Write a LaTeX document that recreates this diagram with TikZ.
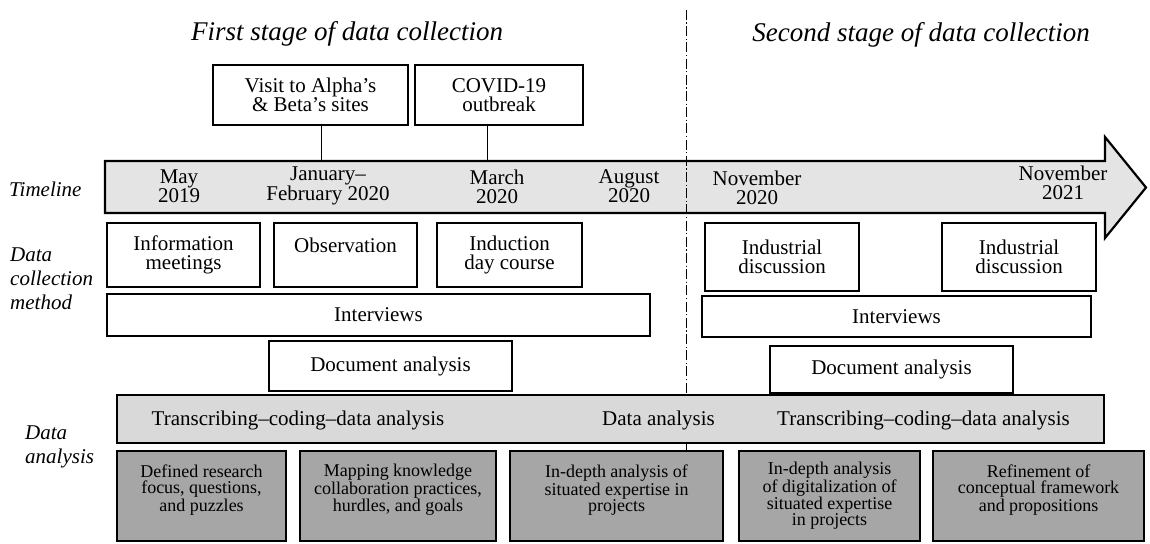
\documentclass[tikz,border=0pt]{standalone}
\usepackage{fontspec}
\setmainfont{Liberation Serif}
\newcommand\txtmain{\fontsize{21}{19.5}\selectfont}
\newcommand\txtsmall{\fontsize{18}{16}\selectfont}
\newcommand\txttitle{\fontsize{27}{30}\selectfont\itshape}
\newcommand\txtside{\fontsize{21}{24}\selectfont\itshape}
\definecolor{arrowgray}{HTML}{E4E4E4}
\definecolor{bargray}{HTML}{D9D9D9}
\definecolor{resultgray}{HTML}{A6A6A6}
\begin{document}
\begin{tikzpicture}[x=1pt,y=-1pt,
  box/.style={draw=black, line width=2.2pt, fill=white, inner sep=0pt,
    align=center, font=\txtmain},
  result/.style={box, fill=resultgray, font=\txtsmall, minimum height=90pt},
  datelabel/.style={align=center, font=\txtmain, inner sep=0pt},
  sidelabel/.style={anchor=west, align=left, font=\txtside, inner sep=0pt},
  stagetitle/.style={font=\txttitle, inner sep=0pt},
  link/.style={draw=black, line width=0.8pt},
  divider/.style={draw=black, line width=0.8pt,
    dash pattern=on 10pt off 2.5pt on 1.2pt off 2.5pt}
]
\useasboundingbox (0,0) rectangle (1150,543);

% stage titles
\node[stagetitle] (title1) at (347,34) {First stage of data collection};
\node[stagetitle] (title2) at (921,35) {Second stage of data collection};

% timeline arrow
\draw[line width=2.2pt, fill=arrowgray, line join=miter]
  (105,161) -- (1105,161) -- (1105,137) -- (1146,187.5) -- (1105,238)
  -- (1105,213) -- (105,213) -- cycle;
\coordinate (jan) at (321,161);
\coordinate (mar) at (487,161);

% events above the timeline
\node[box, minimum width=195pt, minimum height=60pt] (visit) at (310.5,95)
  {Visit to Alpha’s\\ \& Beta’s sites};
\node[box, minimum width=168pt, minimum height=60pt] (covid) at (499,95)
  {COVID-19\\ outbreak};
\draw[link] (visit.south -| jan) -- (jan);
\draw[link] (covid.south -| mar) -- (mar);

% dates on the timeline
\node[datelabel] (d1) at (179,186) {May\\2019};
\node[datelabel] (d2) at (328,186) {January–\\February 2020};
\node[datelabel] (d3) at (497,187) {March\\2020};
\node[datelabel] (d4) at (629,186) {August\\2020};
\node[datelabel] (d5) at (757,188) {November\\2020};
\node[datelabel] (d6) at (1063,183) {November\\2021};

% row labels
\node[sidelabel] (lbltime) at (9,189) {Timeline};
\node[sidelabel] (lblmethod) at (10,279) {Data\\collection\\method};
\node[sidelabel] (lblanalysis) at (25,447) {Data\\analysis};

% data collection methods, first stage
\node[box, minimum width=153pt, minimum height=64pt] (info) at (183.5,255)
  {Information\\ meetings};
\node[box, minimum width=143pt, minimum height=64pt] (obs) at (345.5,255)
  {Observation\\ \mbox{}};
\node[box, minimum width=145pt, minimum height=64pt] (induct) at (509.5,255)
  {Induction\\ day course};
\node[box, minimum width=543pt, minimum height=42pt] (intL) at (378.5,315)
  {Interviews};
\node[box, minimum width=243pt, minimum height=50pt] (docL) at (390.5,366)
  {Document analysis};

% data collection methods, second stage
\node[box, minimum width=154pt, minimum height=68pt] (ind1) at (782,257)
  {Industrial\\ discussion};
\node[box, minimum width=154pt, minimum height=68pt] (ind2) at (1019,257)
  {Industrial\\ discussion};
\node[box, minimum width=389pt, minimum height=41pt] (intR) at (896.5,316.5)
  {Interviews};
\node[box, minimum width=243pt, minimum height=47pt] (docR) at (891.5,369.5)
  {Document analysis};

% data analysis bar
\node[box, fill=bargray, minimum width=987pt, minimum height=48pt] (bar)
  at (610.5,419) {};
\node[datelabel] (tcd1) at (298,420) {Transcribing–coding–data analysis};
\node[datelabel] (da) at (658.5,420) {Data analysis};
\node[datelabel] (tcd2) at (923.5,420) {Transcribing–coding–data analysis};

% analysis outcomes
\node[result, minimum width=169pt] (b1) at (201.5,496)
  {Defined research\\ focus, questions,\\ and puzzles\\ \mbox{}};
\node[result, minimum width=196pt] (b2) at (398,496)
  {Mapping knowledge\\ collaboration practices,\\ hurdles, and goals\\ \mbox{}};
\node[result, minimum width=213pt] (b3) at (616.5,496)
  {In-depth analysis of\\ situated expertise in\\ projects\\ \mbox{}};
\node[result, minimum width=181pt] (b4) at (829.5,496)
  {In-depth analysis\\ of digitalization of\\ situated expertise\\ in projects};
\node[result, minimum width=211pt] (b5) at (1038.5,496)
  {Refinement of\\ conceptual framework\\ and propositions\\ \mbox{}};

% boundary between the two stages
\coordinate (divtop) at (686,10);
\draw[divider] (divtop) -- (divtop |- bar.north);
\draw[link] (bar.south -| divtop) -- (b3.north -| divtop);
\end{tikzpicture}
\end{document}
